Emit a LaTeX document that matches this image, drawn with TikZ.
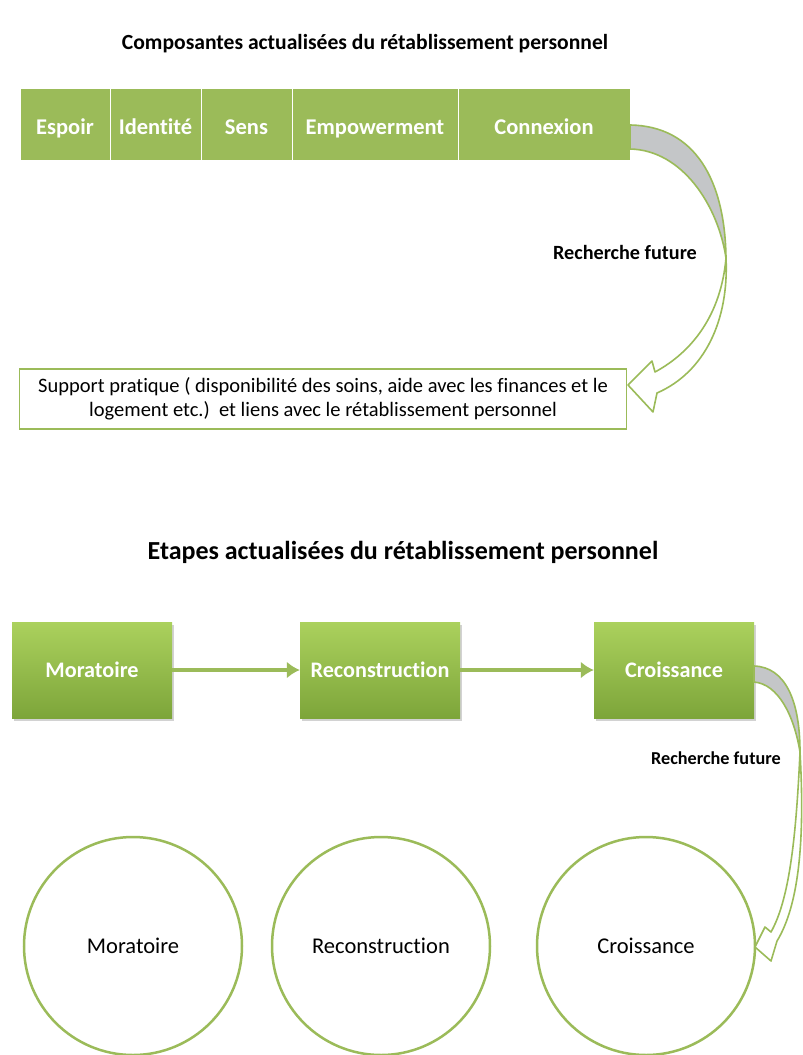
\documentclass[tikz,border=0pt]{standalone}
\usepackage{fontspec}
\setmainfont{Carlito}[Ligatures=NoCommon]
\usetikzlibrary{shadows,arrows.meta}
\definecolor{og}{HTML}{9BBB59}
\definecolor{ogtop}{HTML}{ABD15D}
\definecolor{ogbot}{HTML}{7DA53A}
\definecolor{ribgray}{HTML}{C4C6C8}
\begin{document}
\begin{tikzpicture}[x=1pt,y=-1pt,
 cell/.style={fill=og, draw=white, line width=1pt, text=white, font=\bfseries\fontsize{22.5}{26}\selectfont, minimum height=72pt, inner sep=0pt, text height=20pt, text depth=0pt},
 gbox/.style={top color=ogtop, bottom color=ogbot, draw=none, minimum width=160pt, minimum height=96pt, text=white, font=\bfseries\fontsize{22.2}{26}\selectfont, drop shadow={opacity=0.35,shadow xshift=1.5pt,shadow yshift=-3pt}},
 circ/.style={circle, draw=og, line width=2.5pt, minimum size=218pt, inner sep=0pt, font=\fontsize{22.5}{26}\selectfont},
 ttl/.style={font=\bfseries\fontsize{21.6}{26}\selectfont},
 lbl/.style={font=\bfseries\fontsize{20.2}{24}\selectfont},
 rib/.style={draw=og, line width=1.6pt, line join=round},
 flow/.style={draw=og, line width=4pt, -{Latex[length=13pt,width=17pt]}}
]
\useasboundingbox[fill=white] (0,0) rectangle (803,1055);

% ---------- Section 1 ----------
\node[ttl] (t1) at (365,44) {Composantes actualisées du rétablissement personnel};

\node[cell, minimum width=90pt]  (c1) at (65,124)    {Espoir};
\node[cell, minimum width=91pt]  (c2) at (155.5,124) {Identité};
\node[cell, minimum width=91pt]  (c3) at (246.5,124) {Sens};
\node[cell, minimum width=166pt] (c4) at (375,124)   {Empowerment};
\node[cell, minimum width=172pt] (c5) at (544,124)   {Connexion};

\node[draw=og, line width=1.6pt, minimum width=607pt, minimum height=60pt, align=center,
      font=\fontsize{20.5}{24}\selectfont] (sp) at (323,399)
  {Support pratique ( disponibilité des soins, aide avec les finances et le\\
   logement etc.)\ \ et liens avec le rétablissement personnel};

\node[lbl] (r1) at (625,252) {Recherche future};

% curved ribbon arrow 1 (Connexion -> Support)
\coordinate (a1s) at (630,125);
\coordinate (a1i) at (630,149);
\coordinate (a1t) at (726,258);
\path[rib, fill=ribgray] (a1s) .. controls (695,126) and (725,180) .. (a1t)
      .. controls (718,205) and (682,150) .. (a1i) -- cycle;
\path[rib, fill=white] (a1t) .. controls (729,320) and (705,372) .. (657,393)
      -- (653,412) -- (628,385) -- (652,361) -- (655,372)
      .. controls (692,352) and (721,315) .. (a1t);

% ---------- Section 2 ----------
\node[ttl, font=\bfseries\fontsize{26}{30}\selectfont] (t2) at (403,552) {Etapes actualisées du rétablissement personnel};

\node[gbox] (m1) at (92,670)  {Moratoire};
\node[gbox] (m2) at (380,670) {Reconstruction};
\node[gbox] (m3) at (674,670) {Croissance};

\draw[flow] (m1) -- (m2);
\draw[flow] (m2) -- (m3);

\node[lbl, font=\bfseries\fontsize{18.2}{22}\selectfont] (r2) at (716,758) {Recherche future};

\node[circ] (k1) at (133,946) {Moratoire};
\node[circ] (k2) at (381,946) {Reconstruction};
\node[circ] (k3) at (646,946) {Croissance};

% curved ribbon arrow 2 (Croissance -> circle)
\coordinate (a2s) at (754,666);
\coordinate (a2i) at (754,682);
\coordinate (a2t) at (800,752);
\path[rib, fill=ribgray] (a2s) .. controls (785,667) and (800,700) .. (a2t)
      .. controls (794,715) and (778,684) .. (a2i) -- cycle;
\path[rib, fill=white] (a2t) .. controls (805,840) and (799,905) .. (777,941)
      -- (771,961) -- (755,947) -- (765,927) -- (771,932)
      .. controls (789,900) and (796,840) .. (a2t);
\end{tikzpicture}
\end{document}
